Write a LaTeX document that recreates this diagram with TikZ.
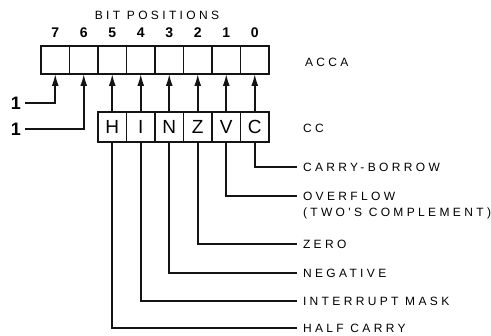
\documentclass[tikz,border=0pt]{standalone}
\usepackage{fontspec}
\setmainfont{Liberation Sans}
\newfontfamily\lblfont[LetterSpace=28]{Liberation Sans}
\usepackage{tikz}
\usetikzlibrary{arrows.meta, positioning}
\definecolor{myink}{RGB}{20,20,20}
\tikzset{
  cell/.style={rectangle, draw=myink, minimum width=28.5pt, minimum height=28pt,
    inner sep=0pt, outer sep=0pt, line width=1.6pt},
  flagcell/.style={cell, minimum height=30pt, font=\fontsize{19}{19}\selectfont},
  bitnum/.style={inner sep=0pt, outer sep=0pt, font=\fontsize{14}{14}\selectfont\bfseries},
  lbl/.style={inner sep=0pt, outer xsep=6pt, outer ysep=0pt, anchor=west,
    font=\fontsize{12}{12}\lblfont},
  onelbl/.style={inner sep=0pt, outer xsep=4pt, font=\fontsize{18}{18}\selectfont\bfseries},
  arrow/.style={-{Latex[length=12pt, width=7pt]}, line width=1.6pt, color=myink},
  line/.style={line width=1.6pt, color=myink}
}
\begin{document}
\begin{tikzpicture}[x=1pt, y=-1pt]
  \useasboundingbox (0,0) rectangle (491,336);

  % accumulator A
  \node[cell] (acc7) at (55.25,60) {};
  \node[cell, right=0pt of acc7] (acc6) {};
  \node[cell, right=0pt of acc6] (acc5) {};
  \node[cell, right=0pt of acc5] (acc4) {};
  \node[cell, right=0pt of acc4] (acc3) {};
  \node[cell, right=0pt of acc3] (acc2) {};
  \node[cell, right=0pt of acc2] (acc1) {};
  \node[cell, right=0pt of acc1] (acc0) {};

  \node[bitnum, above=8pt of acc7] (bit7) {7};
  \node[bitnum, above=8pt of acc6] (bit6) {6};
  \node[bitnum, above=8pt of acc5] (bit5) {5};
  \node[bitnum, above=8pt of acc4] (bit4) {4};
  \node[bitnum, above=8pt of acc3] (bit3) {3};
  \node[bitnum, above=8pt of acc2] (bit2) {2};
  \node[bitnum, above=8pt of acc1] (bit1) {1};
  \node[bitnum, above=8pt of acc0] (bit0) {0};
  \node[lbl, anchor=center, outer xsep=0pt] (bitpos) at (157,15) {BIT POSITIONS};
  \node[lbl] (lacca) at (299,62) {ACCA};

  % condition code register
  \node[flagcell, below=38pt of acc5] (cc5) {H};
  \node[flagcell, right=0pt of cc5] (cc4) {I};
  \node[flagcell, right=0pt of cc4] (cc3) {N};
  \node[flagcell, right=0pt of cc3] (cc2) {Z};
  \node[flagcell, right=0pt of cc2] (cc1) {V};
  \node[flagcell, right=0pt of cc1] (cc0) {C};
  \node[lbl] (lcc) at (297,128) {CC};

  \node[onelbl] (one1) at (16,103) {1};
  \node[onelbl] (one2) at (16,129) {1};
  \draw[arrow] (one1.east) -| (acc7.south);
  \draw[arrow] (one2.east) -| (acc6.south);

  \draw[arrow] (cc5.north) -- (acc5.south);
  \draw[arrow] (cc4.north) -- (acc4.south);
  \draw[arrow] (cc3.north) -- (acc3.south);
  \draw[arrow] (cc2.north) -- (acc2.south);
  \draw[arrow] (cc1.north) -- (acc1.south);
  \draw[arrow] (cc0.north) -- (acc0.south);

  % flag names
  \node[lbl] (lcarry) at (297,167) {CARRY-BORROW};
  \node[lbl] (lovf) at (297,196) {OVERFLOW};
  \node[lbl, below=8pt of lovf.south west, anchor=north west] (ltwos) {(TWO'S COMPLEMENT)};
  \node[lbl] (lzero) at (297,244) {ZERO};
  \node[lbl] (lneg) at (297,273) {NEGATIVE};
  \node[lbl] (lint) at (297,301) {INTERRUPT MASK};
  \node[lbl] (lhalf) at (297,328) {HALF CARRY};

  \draw[line] (cc0.south) |- (lcarry.west);
  \draw[line] (cc1.south) |- (lovf.west);
  \draw[line] (cc2.south) |- (lzero.west);
  \draw[line] (cc3.south) |- (lneg.west);
  \draw[line] (cc4.south) |- (lint.west);
  \draw[line] (cc5.south) |- (lhalf.west);
\end{tikzpicture}
\end{document}
